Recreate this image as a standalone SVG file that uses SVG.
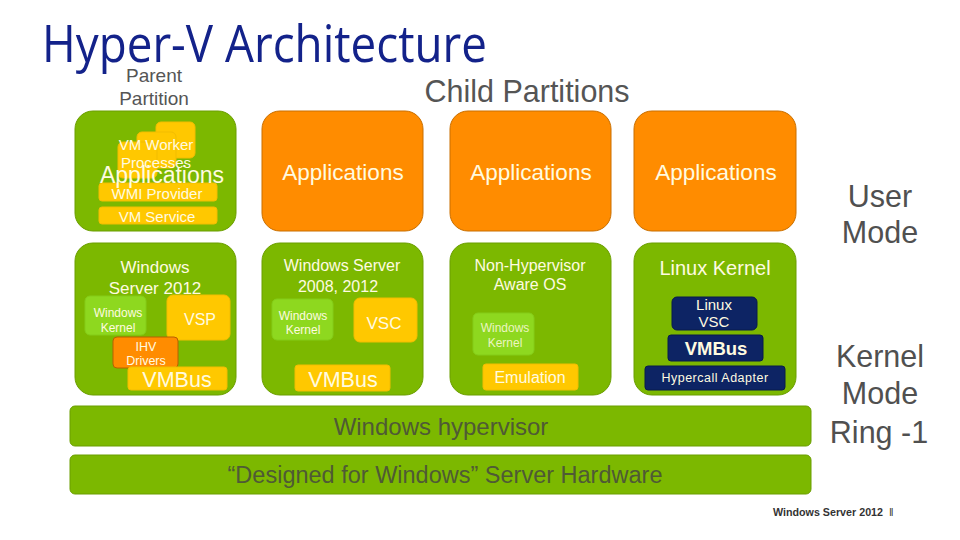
<svg xmlns="http://www.w3.org/2000/svg" width="960" height="540" viewBox="0 0 960 540">
<style>
text{font-family:"Liberation Sans",Arial,sans-serif}
.title{font-family:"Open Sans","Noto Sans",sans-serif;font-size:52px;fill:#13228a}
.hdr{fill:#555555;text-anchor:middle}
.side{font-size:30.5px;fill:#505050;text-anchor:middle}
.grn{fill:#7cb800;stroke:#6b9e00;stroke-width:1}
.org{fill:#ff8c00;stroke:#c96f00;stroke-width:1}
.ylw{fill:#ffc800;stroke:#f2bd00;stroke-width:1}
.lgr{fill:#8ed81f;stroke:#84cc18;stroke-width:1}
.ihv{fill:#ff8c00;stroke:#b86000;stroke-width:1}
.nav{fill:#0d2464;stroke:#081a4c;stroke-width:1}
.wt{fill:#fffbe0;text-anchor:middle}
.bar{fill:#4f5a35;text-anchor:middle}
</style>
<rect width="960" height="540" fill="#ffffff"/>
<text class="title" x="42" y="62" textLength="445" lengthAdjust="spacingAndGlyphs">Hyper-V Architecture</text>
<text class="hdr" x="154" y="82" font-size="19">Parent</text>
<text class="hdr" x="154" y="105" font-size="19">Partition</text>
<text class="hdr" x="527" y="102" font-size="30.5">Child Partitions</text>

<g id="parent-user">
<rect class="grn" x="75" y="111" width="161" height="120" rx="18"/>
<rect class="ylw" x="156" y="122" width="39" height="36" rx="5"/>
<rect class="ylw" x="137" y="132" width="39" height="36" rx="5"/>
<rect class="ylw" x="118" y="142" width="39" height="36" rx="5"/>
<text class="wt" x="156" y="150" font-size="15">VM Worker</text>
<text class="wt" x="156" y="168" font-size="15">Processes</text>
<rect class="ylw" x="99" y="183" width="118" height="18" rx="3"/>
<rect class="ylw" x="99" y="207" width="118" height="17" rx="3"/>
<text class="wt" x="162" y="183" font-size="23">Applications</text>
<text class="wt" x="157" y="199" font-size="15">WMI Provider</text>
<text class="wt" x="157" y="222" font-size="15">VM Service</text>
</g>

<g id="child1-user">
<rect class="org" x="262" y="111" width="161" height="120" rx="18"/>
<text class="wt" x="343" y="180" font-size="22.5">Applications</text>
</g>
<g id="child2-user">
<rect class="org" x="450" y="111" width="161" height="120" rx="18"/>
<text class="wt" x="531" y="180" font-size="22.5">Applications</text>
</g>
<g id="child3-user">
<rect class="org" x="634" y="111" width="162" height="120" rx="18"/>
<text class="wt" x="716" y="180" font-size="22.5">Applications</text>
</g>

<g id="parent-kernel">
<rect class="grn" x="75" y="243" width="161" height="152" rx="18"/>
<text class="wt" x="155" y="273" font-size="17">Windows</text>
<text class="wt" x="155" y="294" font-size="17">Server 2012</text>
<rect class="lgr" x="85" y="296" width="61" height="39" rx="5"/>
<text class="wt" x="118" y="317" font-size="12">Windows</text>
<text class="wt" x="118" y="332" font-size="12">Kernel</text>
<rect class="ylw" x="167" y="295" width="63" height="45" rx="6"/>
<text class="wt" x="200" y="325" font-size="16">VSP</text>
<rect class="ihv" x="113" y="337" width="65" height="31" rx="4"/>
<text class="wt" x="146" y="351" font-size="12.5">IHV</text>
<text class="wt" x="146" y="365" font-size="12.5">Drivers</text>
<rect class="ylw" x="128" y="367" width="99" height="23" rx="3"/>
<text class="wt" x="177" y="387" font-size="21.5">VMBus</text>
</g>

<g id="child1-kernel">
<rect class="grn" x="262" y="243" width="161" height="152" rx="18"/>
<text class="wt" x="342" y="271" font-size="16">Windows Server</text>
<text class="wt" x="338" y="292" font-size="16">2008, 2012</text>
<rect class="lgr" x="272" y="299" width="61" height="41" rx="5"/>
<text class="wt" x="303" y="320" font-size="12">Windows</text>
<text class="wt" x="303" y="334" font-size="12">Kernel</text>
<rect class="ylw" x="354" y="298" width="63" height="44" rx="6"/>
<text class="wt" x="384" y="329" font-size="17">VSC</text>
<rect class="ylw" x="295" y="365" width="95" height="26" rx="3"/>
<text class="wt" x="343" y="387" font-size="21.5">VMBus</text>
</g>

<g id="child2-kernel">
<rect class="grn" x="450" y="243" width="161" height="152" rx="18"/>
<text class="wt" x="530" y="271" font-size="16">Non-Hypervisor</text>
<text class="wt" x="530" y="290" font-size="16">Aware OS</text>
<rect class="lgr" x="473" y="313" width="61" height="42" rx="5"/>
<text class="wt" x="505" y="332" font-size="12" fill-opacity="0.85">Windows</text>
<text class="wt" x="505" y="347" font-size="12" fill-opacity="0.85">Kernel</text>
<rect class="ylw" x="483" y="364" width="95" height="26" rx="3"/>
<text class="wt" x="530" y="383" font-size="16">Emulation</text>
</g>

<g id="child3-kernel">
<rect class="grn" x="634" y="243" width="162" height="152" rx="18"/>
<text class="wt" x="715" y="275" font-size="20">Linux Kernel</text>
<rect class="nav" x="672" y="297" width="85" height="33" rx="5"/>
<text class="wt" x="714" y="310" font-size="15">Linux</text>
<text class="wt" x="714" y="327" font-size="15">VSC</text>
<rect class="nav" x="668" y="335" width="95" height="26" rx="3"/>
<text class="wt" x="716" y="355" font-size="18.5" font-weight="bold">VMBus</text>
<rect class="nav" x="645" y="366" width="140" height="24" rx="3"/>
<text class="wt" x="715" y="382" font-size="12.5" letter-spacing="0.5">Hypercall Adapter</text>
</g>

<g id="hypervisor">
<rect class="grn" x="70" y="406" width="741" height="40" rx="5"/>
<text class="bar" x="441" y="435" font-size="24">Windows hypervisor</text>
</g>
<g id="hardware">
<rect class="grn" x="70" y="455" width="741" height="39" rx="5"/>
<text class="bar" x="445" y="483" font-size="23.5">“Designed for Windows” Server Hardware</text>
</g>

<g id="labels">
<text class="side" x="880" y="207">User</text>
<text class="side" x="880" y="243">Mode</text>
<text class="side" x="880" y="367">Kernel</text>
<text class="side" x="880" y="404">Mode</text>
<text class="side" x="879" y="443">Ring -1</text>
</g>

<g id="connectors"/>

<g id="footer">
<text x="773" y="516" font-size="11" font-weight="bold" fill="#333333" textLength="110" lengthAdjust="spacingAndGlyphs">Windows Server 2012</text>
<text x="889" y="516" font-size="11" fill="#333333">‖</text>
</g>
</svg>
